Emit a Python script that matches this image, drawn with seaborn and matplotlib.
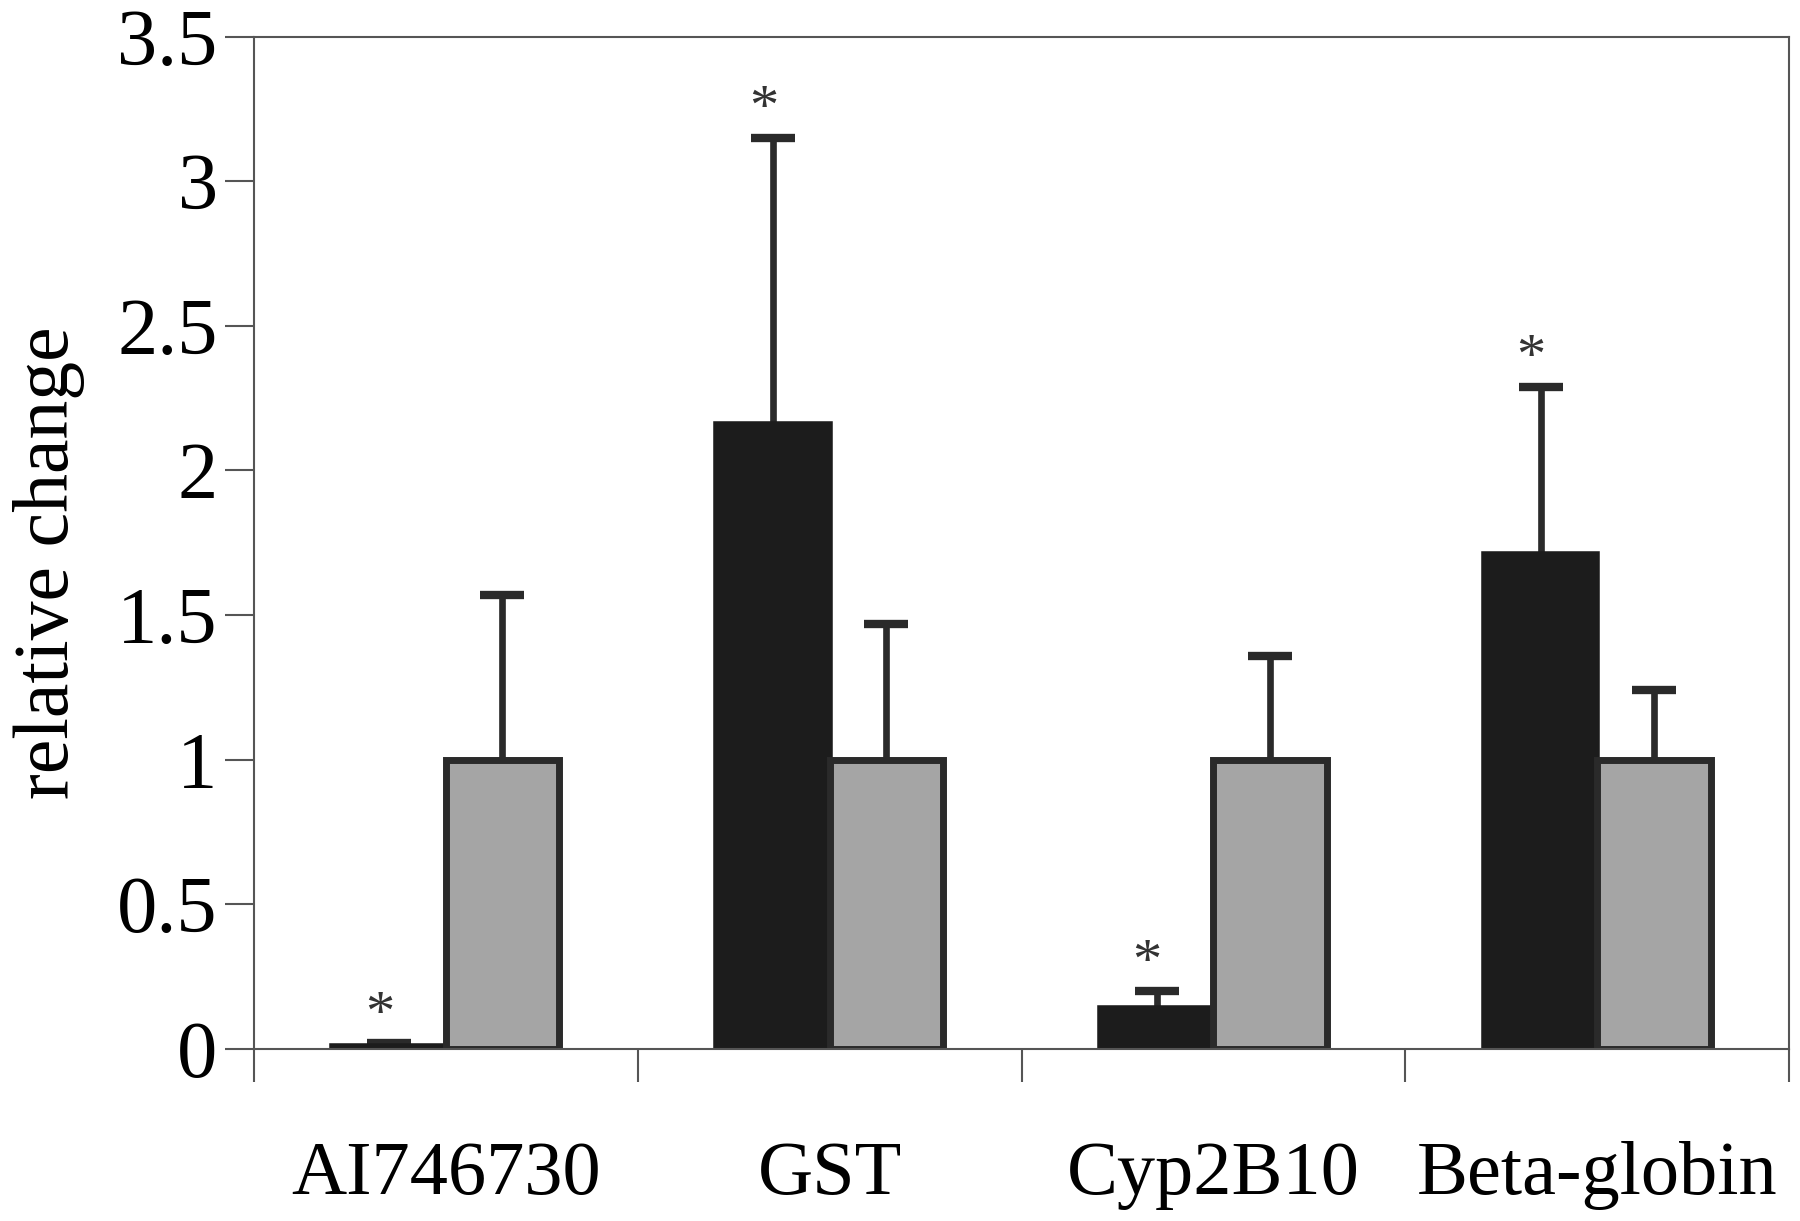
import numpy as np
import matplotlib
matplotlib.use("Agg")
import matplotlib.pyplot as plt
import pandas as pd
import seaborn as sns

# Data
genes = ["AI746730", "GST", "Cyp2B10", "Beta-globin"]
groups = ["treated", "control"]
treated_values = [0.01, 2.16, 0.14, 1.71]
treated_err = [0.01, 0.99, 0.06, 0.58]
control_values = [1.0, 1.0, 1.0, 1.0]
control_err = [0.57, 0.47, 0.36, 0.24]
significant = [True, True, True, True]
yticks = [0, 0.5, 1, 1.5, 2, 2.5, 3, 3.5]
ytick_labels = ["0", "0.5", "1", "1.5", "2", "2.5", "3", "3.5"]

# long-form dataframe for seaborn
df = pd.DataFrame({
    "gene": genes * 2,
    "group": [groups[0]] * 4 + [groups[1]] * 4,
    "value": treated_values + control_values,
})

sns.set_theme(style="white")
plt.rcParams['font.family'] = ['Liberation Serif', 'DejaVu Serif']
plt.rcParams['text.color'] = 'black'
plt.rcParams['axes.labelcolor'] = 'black'
plt.rcParams['xtick.color'] = 'black'
plt.rcParams['ytick.color'] = 'black'

fig = plt.figure(figsize=(18, 12.21), dpi=100)
ax = fig.add_axes([0.141, 0.141, 0.853, 0.829])

palette = {"treated": "#1c1c1c", "control": "#a5a5a5"}
sns.barplot(data=df, x="gene", y="value", hue="group", order=genes,
            hue_order=groups, palette=palette, width=0.59, gap=0,
            errorbar=None, legend=False, saturation=1, ax=ax)

# style bars and add one-sided error bars
errs = [treated_err, control_err]
bar_containers = list(ax.containers)
for k, cont in enumerate(bar_containers):
    xs = []
    for bar in cont:
        if k == 1:
            bar.set_edgecolor("#2a2a2a")
            bar.set_linewidth(5.0)
        else:
            bar.set_edgecolor("#1c1c1c")
            bar.set_linewidth(4.0)
        bar.set_zorder(2)
        xs.append(bar.get_x() + bar.get_width() / 2)
    vals = np.array([b.get_height() for b in cont])
    _, caps, _ = ax.errorbar(xs, vals, yerr=[np.zeros(len(vals)), errs[k]],
                             fmt="none", ecolor="#2a2a2a", elinewidth=4.8,
                             capsize=16, capthick=6, zorder=1)
    # hide the lower caps (one-sided bars)
    for c in caps:
        if np.allclose(c.get_ydata(), vals):
            c.set_visible(False)
    if k == 0:
        for x, v, e, s in zip(xs, vals, errs[k], significant):
            if s:
                ax.annotate("*", (x - 0.025, v + e), xytext=(0, 1),
                            textcoords="offset points", ha="center",
                            va="bottom", fontsize=42, color="#333333")

ax.set_ylim(0, 3.5)
ax.set_xlim(-0.5, 3.5)
ax.set_yticks(yticks)
ax.set_yticklabels(ytick_labels, fontsize=58)
ax.set_xticks(range(len(genes)))
ax.set_xticklabels(genes, fontsize=55)
ax.set_xticks(np.arange(-0.5, 4.0, 1.0), minor=True)
ax.tick_params(axis="x", which="major", length=0, pad=66)
ax.tick_params(axis="x", which="minor", length=24, width=1.5,
               color="#555555", direction="out", bottom=True)
ax.tick_params(axis="y", length=21, width=1.5, color="#555555",
               direction="out", left=True, pad=5)
ax.set_xlabel("")
ax.set_ylabel("relative change", fontsize=56)
ax.yaxis.set_label_coords(-0.11, 0.48)

for sp in ax.spines.values():
    sp.set_visible(True)
    sp.set_color("#555555")
    sp.set_linewidth(1.5)

fig.savefig("out.png", dpi=100)
